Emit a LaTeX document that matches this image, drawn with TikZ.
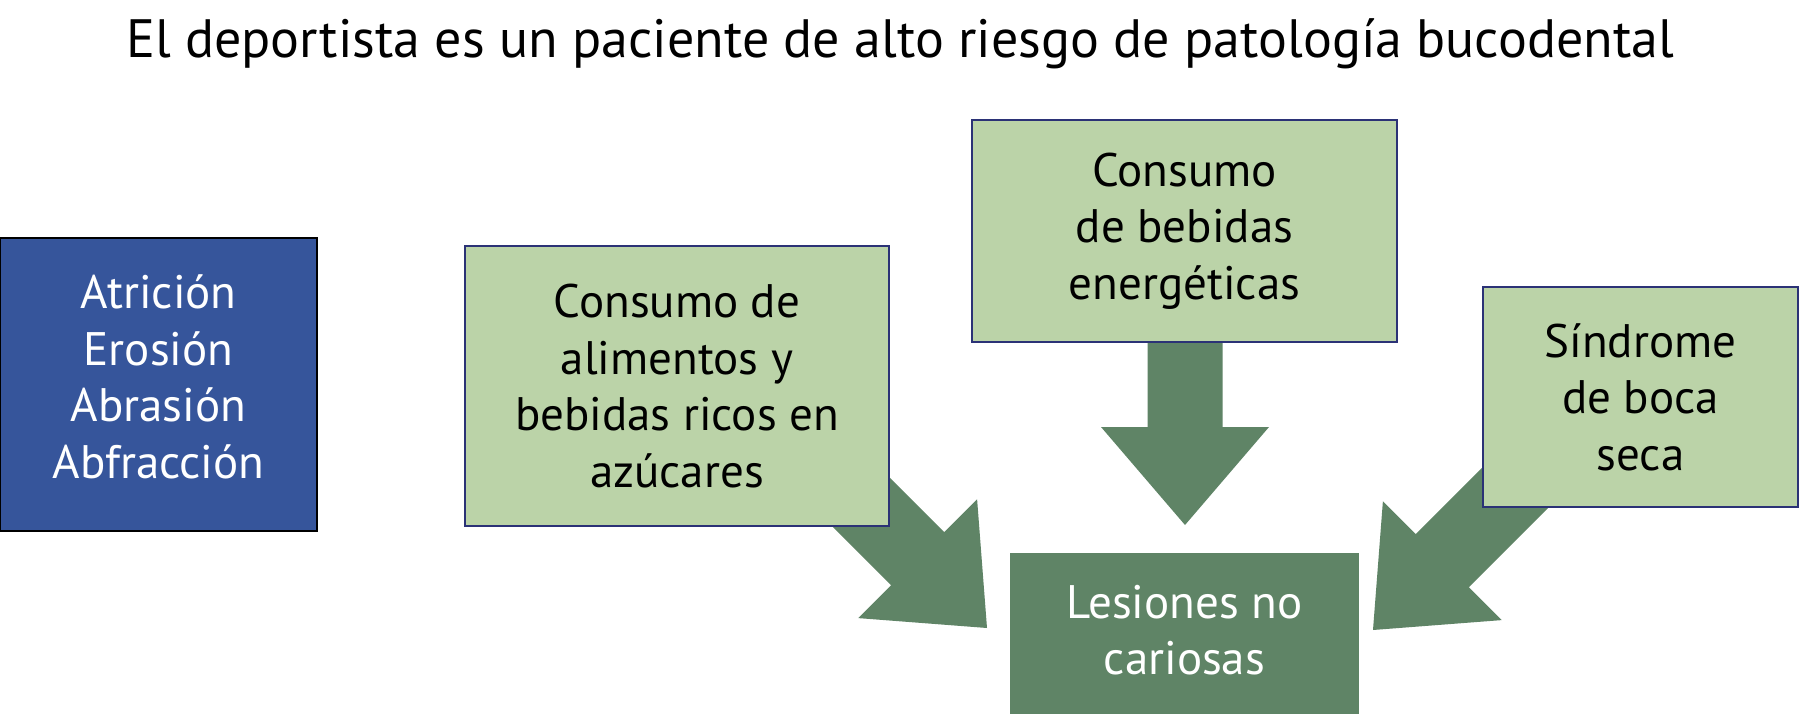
\documentclass[tikz,border=0pt]{standalone}
\usepackage{fontspec}
\setmainfont{PT Sans}
\usetikzlibrary{calc}
\pgfdeclarelayer{bg}
\pgfsetlayers{bg,main}
\definecolor{bluefill}{HTML}{36559B}
\definecolor{lightgreen}{HTML}{BBD3A8}
\definecolor{darkgreen}{HTML}{5F8466}
\definecolor{navyline}{HTML}{2B3276}
\tikzset{
  boxtext/.style={inner sep=0pt, outer sep=0pt, align=center,
    font=\fontsize{47}{56.5}\selectfont},
  box/.style={rectangle, boxtext},
  lightbox/.style={box, fill=lightgreen, draw=navyline, line width=2pt, text=black},
  bluebox/.style={box, fill=bluefill, draw=black, line width=2.5pt, text=white},
  darkbox/.style={box, fill=darkgreen, text=white},
  blockarrow/.style={fill=darkgreen, draw=none}
}
\newcommand\fatarrow[2]{%
  \coordinate (#1-b) at ($(#2)!98pt!(#1)$);
  \fill[blockarrow] ($(#1)!37.5pt!90:(#2)$) -- ($(#1-b)!37.5pt!90:(#2)$)
    -- ($(#1-b)!84pt!90:(#2)$) -- (#2) -- ($(#1-b)!84pt!-90:(#2)$)
    -- ($(#1-b)!37.5pt!-90:(#2)$) -- ($(#1)!37.5pt!-90:(#2)$) -- cycle;}
\begin{document}
\begin{tikzpicture}[x=1pt,y=-1pt]
\useasboundingbox (0,0) rectangle (1800,714);
\node[font=\fontsize{54}{62}\selectfont, anchor=base] (title) at (900,58)
  {El deportista es un paciente de alto riesgo de patología bucodental};
\node[bluebox, minimum width=317pt, minimum height=293pt] (tipos) at (158.5,384.5) {};
\node[boxtext, text=white] (tiposlbl) at (158.5,377)
  {Atrición\\Erosión\\Abrasión\\Abfracción};
\node[lightbox, minimum width=424pt, minimum height=280pt] (azucar) at (677,386)
  {Consumo de\\alimentos y\\bebidas ricos en\\azúcares};
\node[lightbox, minimum width=425pt, minimum height=222pt] (energ) at (1184.5,231)
  {Consumo\\de bebidas\\energéticas};
\node[lightbox, minimum width=315pt, minimum height=220pt] (boca) at (1640.5,397)
  {Síndrome\\de boca\\seca};
\node[darkbox, minimum width=349pt, minimum height=163pt] (lesion) at (1184.5,634.5) {};
\node[boxtext, text=white] (lesionlbl) at (1184.5,630) {Lesiones no\\cariosas};
\coordinate (t1) at (800,441);
\coordinate (p1) at (987,628);
\coordinate (t2) at (1185,300);
\coordinate (p2) at (1185,525);
\coordinate (t3) at (1560,443);
\coordinate (p3) at (1373,630);
\begin{pgfonlayer}{bg}
\fill[white] (0,0) rectangle (1800,714);
\fatarrow{t1}{p1}
\fatarrow{t2}{p2}
\fatarrow{t3}{p3}
\end{pgfonlayer}
\end{tikzpicture}
\end{document}
